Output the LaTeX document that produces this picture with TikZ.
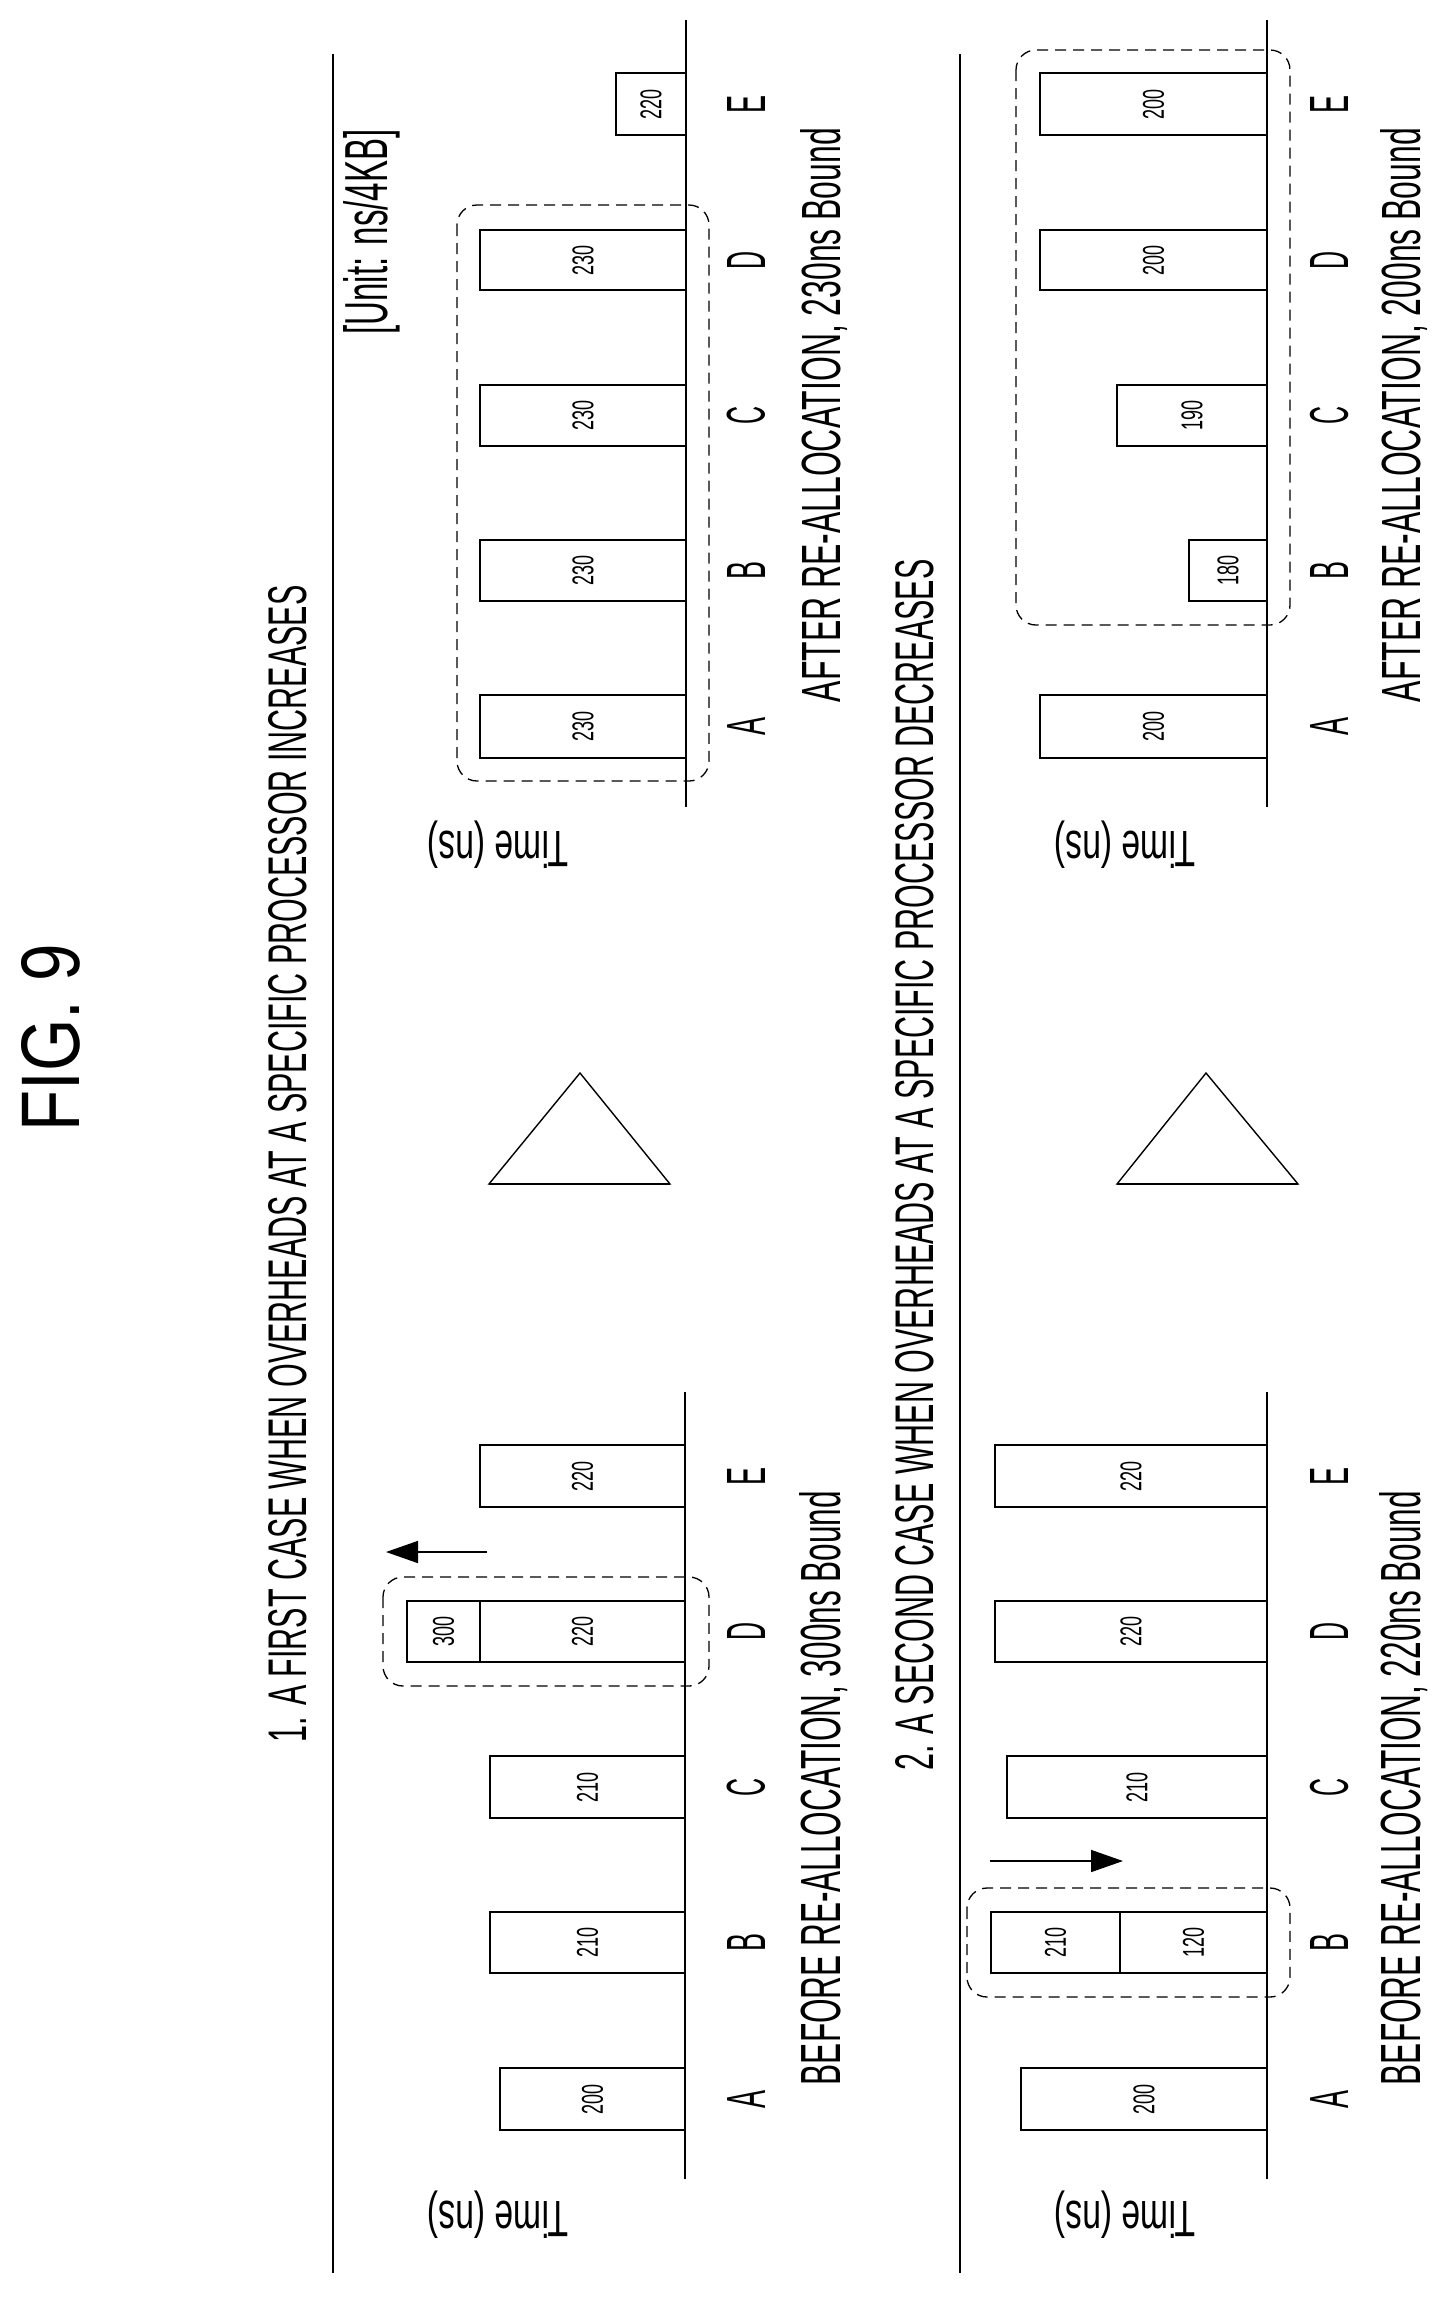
\documentclass[tikz,border=0pt]{standalone}
\usepackage{fontspec}
\setmainfont{Liberation Sans}
\usetikzlibrary{arrows.meta}
\newcommand\fitt[3]{\resizebox{#1pt}{#2pt}{#3}}
\newcommand\barbox[6]{%
  \draw[barline] (#1,#2) rectangle (#4,#3);
  \node[num] (#6) at ({(#1+#4)/2},{(#2+#3)/2}) {\fitt{30}{21}{#5}};}
\begin{document}
\begin{tikzpicture}[x=1pt,y=-1pt,
  barline/.style={line width=1.6pt},
  num/.style={rotate=90,inner sep=0pt},
  txt/.style={rotate=90,inner sep=0pt},
  axisline/.style={line width=1.6pt},
  dashbox/.style={line width=1.3pt,dash pattern=on 11pt off 7pt,rounded corners=20pt},
  arr/.style={line width=1.6pt,-{Triangle[length=32pt,width=22pt]}},
  tri/.style={line width=1.4pt}]
\useasboundingbox (0,0) rectangle (1451,2297);
% title and headings
\node[txt] (fig) at (51,1038) {\fitt{187}{58}{FIG. 9}};
\node[txt] (t1) at (288,1164) {\fitt{1157}{38}{1. A FIRST CASE WHEN OVERHEADS AT A SPECIFIC PROCESSOR INCREASES}};
\node[txt] (t2) at (915,1165) {\fitt{1211}{38}{2. A SECOND CASE WHEN OVERHEADS AT A SPECIFIC PROCESSOR DECREASES}};
\node[txt] (unit) at (372,232) {\fitt{205}{44}{[Unit: ns/4KB]}};
% separators
\draw[line width=2.6pt] (333,54) -- (333,2273);
\draw[line width=2.6pt] (960,54) -- (960,2273);
% axes
\draw[axisline] (686,20) -- (686,807);
\draw[axisline] (685,1392) -- (685,2179);
\draw[axisline] (1267,20) -- (1267,807);
\draw[axisline] (1267,1392) -- (1267,2179);
% time labels
\foreach \xx/\yy/\nm in {498/845/ta1,498/2215/tb1,1125/845/ta2,1125/2215/tb2}
  \node[rotate=180,inner sep=0pt] (\nm) at (\xx,\yy) {\fitt{141}{37}{Time (ns)}};
% triangles
\draw[tri] (580,1073) -- (670,1184) -- (489,1184) -- cycle;
\draw[line width=2.2pt] (489,1184) -- (670,1184);
\draw[tri] (1206,1073) -- (1298,1184) -- (1117,1184) -- cycle;
\draw[line width=2.2pt] (1117,1184) -- (1298,1184);
% panel 1 after
\barbox{480}{695}{758}{686}{230}{p1aA}
\barbox{480}{540}{601}{686}{230}{p1aB}
\barbox{480}{385}{446}{686}{230}{p1aC}
\barbox{480}{230}{290}{686}{230}{p1aD}
\barbox{616}{73}{135}{686}{220}{p1aE}
\draw[dashbox] (457,205) rectangle (709,781);
% panel 1 before
\barbox{500}{2068}{2130}{685}{200}{p1bA}
\barbox{490}{1912}{1973}{685}{210}{p1bB}
\barbox{490}{1756}{1818}{685}{210}{p1bC}
\barbox{480}{1601}{1662}{685}{220}{p1bD}
\barbox{407}{1601}{1662}{480}{300}{p1bDx}
\barbox{480}{1445}{1507}{685}{220}{p1bE}
\draw[dashbox] (383,1577) rectangle (709,1686);
\coordinate (a1s) at (487,1552); \coordinate (a1e) at (386,1552);
\draw[arr] (a1s) -- (a1e);
% panel 2 after
\barbox{1040}{695}{758}{1267}{200}{p2aA}
\barbox{1189}{540}{601}{1267}{180}{p2aB}
\barbox{1117}{385}{446}{1267}{190}{p2aC}
\barbox{1040}{230}{290}{1267}{200}{p2aD}
\barbox{1040}{73}{135}{1267}{200}{p2aE}
\draw[dashbox] (1016,50) rectangle (1290,625);
% panel 2 before
\barbox{1021}{2068}{2130}{1267}{200}{p2bA}
\barbox{1120}{1912}{1973}{1267}{120}{p2bB}
\barbox{991}{1912}{1973}{1120}{210}{p2bBx}
\barbox{1007}{1756}{1818}{1267}{210}{p2bC}
\barbox{995}{1601}{1662}{1267}{220}{p2bD}
\barbox{995}{1445}{1507}{1267}{220}{p2bE}
\draw[dashbox] (967,1888) rectangle (1290,1997);
\coordinate (a2s) at (990,1861); \coordinate (a2e) at (1123,1861);
\draw[arr] (a2s) -- (a2e);
% letters
\foreach \lx/\pre in {746/l1,1329/l2}{
  \foreach \ly/\L in {104/E,260/D,415/C,570/B,726/A}
    \node[txt] (\pre a\L) at (\lx,\ly) {\fitt{18}{38}{\L}};
  \foreach \ly/\L in {1476/E,1631/D,1787/C,1942/B,2099/A}
    \node[txt] (\pre b\L) at (\lx,\ly) {\fitt{18}{38}{\L}};
}
% captions
\node[txt] (c1a) at (824,415) {\fitt{574}{40}{AFTER RE-ALLOCATION, 230ns Bound}};
\node[txt] (c1b) at (824,1788) {\fitt{594}{41}{BEFORE RE-ALLOCATION, 300ns Bound}};
\node[txt] (c2a) at (1404,415) {\fitt{574}{40}{AFTER RE-ALLOCATION, 200ns Bound}};
\node[txt] (c2b) at (1404,1788) {\fitt{594}{41}{BEFORE RE-ALLOCATION, 220ns Bound}};
\end{tikzpicture}
\end{document}
